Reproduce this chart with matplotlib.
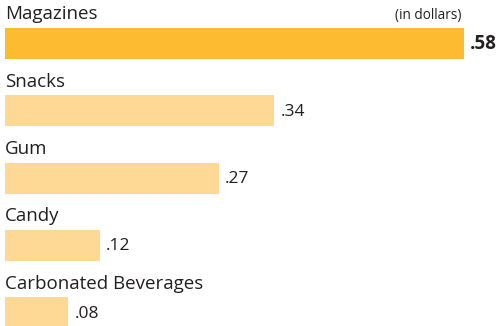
import numpy as np
import matplotlib.pyplot as plt

plt.rcParams['font.family'] = ['Open Sans', 'DejaVu Sans']

categorias = ['Magazines', 'Snacks', 'Gum', 'Candy', 'Carbonated Beverages']
valores = [0.58, 0.34, 0.27, 0.12, 0.08]
etiquetas = ['.58', '.34', '.27', '.12', '.08']

color_top = '#fcbb30'
color_resto = '#fed895'

fig = plt.figure(figsize=(5.01, 3.26), dpi=100)
ax = fig.add_axes([0, 0, 1, 1])

y = np.arange(len(categorias))
colores = [color_top] + [color_resto] * (len(categorias) - 1)
alto = 0.46
ax.barh(y, valores, height=alto, color=colores, left=0)

for i, (cat, val, lab) in enumerate(zip(categorias, valores, etiquetas)):
    ax.text(0.0, i - alto / 2 - 0.13, cat, fontsize=13.5, color='#231f20',
            va='baseline', ha='left')
    ax.annotate(lab, (val, i), xytext=(6, -1), textcoords='offset pixels',
                va='center', ha='left', fontsize=13.5 if i == 0 else 12.5,
                color='#231f20', fontweight='bold' if i == 0 else 'normal')

ax.text(valores[0] - 0.003, -alto / 2 - 0.13, '(in dollars)', fontsize=9.8,
        color='#231f20', va='baseline', ha='right')

ax.set_xlim(-5 / 792, 496 / 792)
ax.set_ylim(4.197, -0.646)
ax.axis('off')

fig.savefig('out.png', dpi=100)
